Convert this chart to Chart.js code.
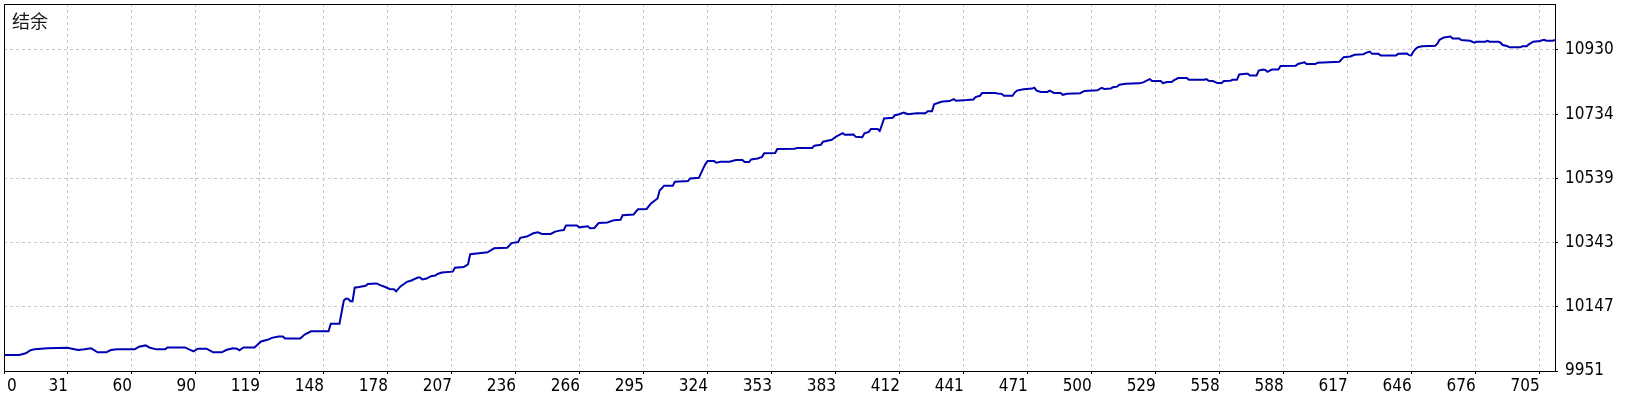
<!DOCTYPE html>
<html>
<head>
<meta charset="utf-8">
<script src="https://cdn.jsdelivr.net/npm/chart.js@4/dist/chart.umd.min.js"></script>
<style>
  html, body { margin: 0; padding: 0; background: #fff; }
  #wrap { width: 1640px; height: 400px; position: relative; }
</style>
</head>
<body>
<div id="wrap"><canvas id="balanceChart"></canvas></div>
<script>
// 系列名
const seriesName = '结余';

// X軸の目盛ラベル(取引番号)
const xTickLabels = ['0', '31', '60', '90', '119', '148', '178', '207', '236', '266', '295', '324',
    '353', '383', '412', '441', '471', '500', '529', '558', '588', '617', '646', '676', '705'];

// Y軸の目盛ラベル(残高)
const yTickLabels = [9951, 10147, 10343, 10539, 10734, 10930];

// 取引番号
const tradeNo = [
    0, 7, 10, 12, 14, 20, 29, 34, 37, 40, 43, 47, 49, 52, 60, 62, 65, 67, 70, 74,
    75, 83, 85, 87, 89, 93, 96, 100, 102, 105, 107, 108, 110, 115, 118, 121, 123, 126, 128, 129,
    136, 138, 141, 149, 150, 154, 156, 157, 158, 159, 160, 161, 163, 166, 167, 171, 173, 175, 177, 179,
    180, 182, 185, 187, 190, 191, 192, 194, 196, 198, 199, 201, 206, 207, 211, 213, 214, 218, 222, 224,
    225, 231, 233, 236, 237, 240, 243, 245, 247, 251, 253, 255, 257, 258, 263, 264, 268, 269, 271, 273,
    277, 280, 283, 284, 289, 291, 295, 297, 300, 301, 302, 303, 307, 308, 314, 315, 319, 321, 322, 323,
    326, 327, 329, 333, 336, 339, 340, 342, 343, 346, 348, 349, 354, 355, 363, 364, 371, 372, 375, 376,
    380, 382, 385, 386, 390, 391, 394, 395, 397, 398, 401, 402, 403, 404, 408, 409, 411, 413, 415, 419,
    423, 424, 426, 427, 430, 431, 434, 436, 437, 442, 445, 446, 448, 449, 455, 456, 458, 459, 463, 464,
    465, 468, 472, 473, 474, 476, 479, 480, 482, 485, 486, 488, 494, 496, 502, 503, 504, 505, 508, 509,
    511, 512, 515, 521, 523, 525, 526, 527, 531, 532, 534, 536, 537, 539, 543, 544, 551, 552, 553, 555,
    557, 559, 560, 563, 564, 566, 567, 570, 571, 572, 575, 576, 578, 579, 580, 582, 585, 586, 593, 594,
    597, 598, 602, 603, 613, 615, 618, 620, 624, 626, 627, 628, 631, 632, 639, 640, 644, 645, 646, 647,
    648, 649, 651, 657, 658, 659, 661, 664, 665, 668, 669, 673, 675, 676, 680, 681, 682, 686, 687, 688,
    690, 691, 696, 697, 699, 700, 702, 705, 707, 708, 711, 712
];

// 残高
const balance = [
    10000, 10000, 10005, 10014, 10017, 10020, 10022, 10015, 10017, 10020, 10008, 10008, 10015, 10017, 10017, 10025, 10029, 10022, 10017, 10017,
    10023, 10023, 10017, 10011, 10019, 10019, 10008, 10008, 10015, 10020, 10019, 10014, 10023, 10023, 10041, 10046, 10052, 10056, 10056, 10050,
    10050, 10062, 10072, 10072, 10095, 10095, 10166, 10172, 10171, 10164, 10164, 10205, 10207, 10211, 10216, 10218, 10212, 10207, 10201, 10200,
    10194, 10209, 10223, 10227, 10236, 10236, 10230, 10233, 10240, 10242, 10247, 10251, 10254, 10266, 10268, 10276, 10307, 10310, 10313, 10321,
    10325, 10327, 10341, 10344, 10357, 10361, 10371, 10374, 10369, 10369, 10376, 10379, 10381, 10395, 10395, 10389, 10392, 10386, 10387, 10402,
    10404, 10411, 10412, 10426, 10428, 10444, 10445, 10462, 10477, 10502, 10508, 10516, 10516, 10528, 10530, 10538, 10540, 10569, 10582, 10591,
    10591, 10586, 10589, 10589, 10594, 10594, 10588, 10588, 10596, 10599, 10604, 10615, 10616, 10628, 10629, 10631, 10631, 10638, 10641, 10650,
    10656, 10666, 10676, 10671, 10672, 10665, 10664, 10676, 10680, 10689, 10689, 10683, 10701, 10721, 10723, 10731, 10734, 10739, 10734, 10737,
    10737, 10743, 10743, 10764, 10771, 10773, 10774, 10780, 10775, 10777, 10779, 10786, 10790, 10799, 10799, 10797, 10796, 10790, 10790, 10800,
    10806, 10810, 10812, 10815, 10806, 10802, 10802, 10806, 10799, 10799, 10793, 10796, 10798, 10805, 10807, 10811, 10814, 10811, 10812, 10816,
    10818, 10824, 10827, 10828, 10831, 10838, 10841, 10835, 10835, 10829, 10832, 10832, 10837, 10844, 10844, 10839, 10839, 10841, 10836, 10835,
    10829, 10829, 10835, 10836, 10839, 10839, 10855, 10857, 10857, 10852, 10852, 10867, 10870, 10869, 10863, 10870, 10870, 10881, 10882, 10887,
    10892, 10887, 10887, 10891, 10894, 10908, 10910, 10915, 10917, 10923, 10925, 10918, 10918, 10913, 10913, 10918, 10919, 10914, 10913, 10925,
    10933, 10938, 10941, 10943, 10949, 10961, 10968, 10971, 10965, 10965, 10960, 10958, 10952, 10955, 10955, 10958, 10955, 10955, 10952, 10945,
    10942, 10938, 10938, 10941, 10941, 10947, 10955, 10957, 10961, 10958, 10958, 10960
];

const xStep = 29.375;   // 目盛1つ分の取引数
const xMax = 712;
const yMin = 9951;
const yMax = 11070;

const tickFont = { family: '"DejaVu Sans Condensed", "DejaVu Sans", sans-serif', size: 17 };
const tickLen = 3;
const xPad = 2;

// 枠線・系列名・先頭ラベルを描くプラグイン
const framePlugin = {
    id: 'framePlugin',
    afterDraw(chart) {
        const { ctx, chartArea: a, scales } = chart;
        ctx.save();
        ctx.strokeStyle = '#000';
        ctx.lineWidth = 1;
        ctx.beginPath();
        ctx.moveTo(a.left + 0.5, a.bottom);
        ctx.lineTo(a.left + 0.5, a.top + 0.5);
        ctx.lineTo(a.right, a.top + 0.5);
        ctx.stroke();

        ctx.fillStyle = '#1a1a1a';
        ctx.font = '18px "Noto Sans CJK SC"';
        ctx.textBaseline = 'middle';
        ctx.textAlign = 'left';
        ctx.fillText(seriesName, 12, 21);

        // X軸の先頭ラベルだけ左寄せ
        ctx.fillStyle = '#000';
        ctx.font = `${tickFont.size}px ${tickFont.family}`;
        ctx.textBaseline = 'middle';
        const ly = scales.x.top + tickLen + xPad + tickFont.size * 1.2 / 2;
        ctx.fillText(xTickLabels[0], scales.x.getPixelForValue(0) + 3, ly);
        ctx.restore();
    }
};

const points = tradeNo.map((t, i) => ({ x: t, y: balance[i] }));

new Chart(document.getElementById('balanceChart'), {
    type: 'line',
    data: {
        datasets: [{
            label: seriesName,
            data: points,
            borderColor: '#0000b4',
            borderWidth: 2,
            pointRadius: 0,
            tension: 0,
            fill: false
        }]
    },
    options: {
        responsive: true,
        maintainAspectRatio: false,
        animation: false,
        devicePixelRatio: 1,
        layout: { padding: { left: 4, top: 4, right: 0, bottom: 0 } },
        plugins: {
            legend: { display: false },
            tooltip: { enabled: false }
        },
        scales: {
            x: {
                type: 'linear',
                min: 0,
                max: xMax,
                afterBuildTicks: scale => {
                    scale.ticks = xTickLabels.map((l, i) => ({ value: i * xStep }));
                },
                afterFit: scale => {
                    scale.height = 29;
                    scale.paddingLeft = 0;
                    scale.paddingRight = 0;
                },
                ticks: {
                    autoSkip: false,
                    maxRotation: 0,
                    align: 'end',
                    padding: xPad,
                    color: '#000',
                    font: tickFont,
                    callback: (value, index) => index === 0 ? '' : xTickLabels[index]
                },
                grid: {
                    color: '#c8c8c8',
                    tickColor: '#000',
                    tickLength: tickLen,
                    tickBorderDash: []
                },
                border: { display: true, color: '#000', width: 1, dash: [3, 3] }
            },
            y: {
                position: 'right',
                min: yMin,
                max: yMax,
                afterBuildTicks: scale => {
                    scale.ticks = yTickLabels.map(v => ({ value: v }));
                },
                afterFit: scale => {
                    scale.width = 85;
                    scale.paddingTop = 0;
                    scale.paddingBottom = 0;
                },
                ticks: {
                    padding: 7,
                    color: '#000',
                    font: tickFont,
                    callback: value => String(value)
                },
                grid: {
                    color: '#c8c8c8',
                    tickColor: '#000',
                    tickLength: tickLen,
                    tickBorderDash: []
                },
                border: { display: true, color: '#000', width: 1, dash: [3, 3] }
            }
        }
    },
    plugins: [framePlugin]
});
</script>
</body>
</html>
